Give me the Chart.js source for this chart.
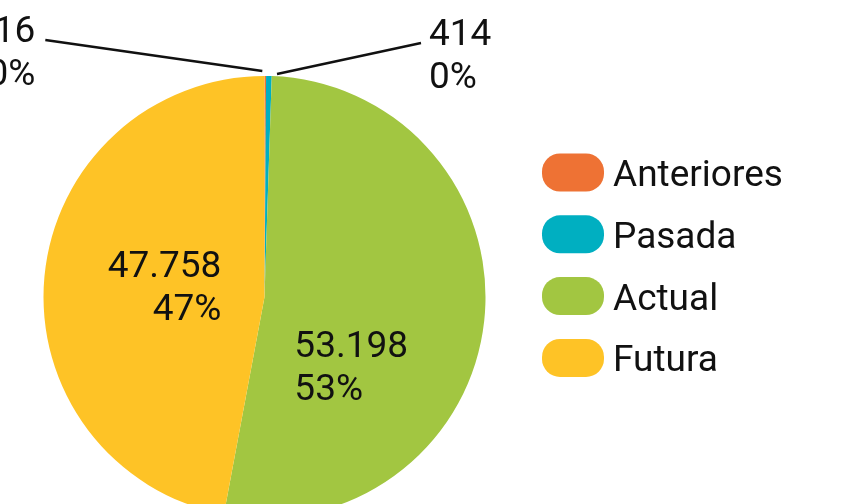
<!DOCTYPE html>
<html lang="es">
<head>
    <meta charset="UTF-8">
    <title>Distribución por temporada</title>
    <script src="https://cdn.jsdelivr.net/npm/chart.js"></script>
    <style>
        html, body { margin: 0; padding: 0; background: #fff; overflow: hidden; }
        #wrap { width: 858px; height: 504px; overflow: hidden; }
        canvas { display: block; }
    </style>
</head>
<body>
    <div id="wrap">
        <canvas id="pieChart" width="858" height="540"></canvas>
    </div>

    <script>
        // Datos
        const categories = ['Anteriores', 'Pasada', 'Actual', 'Futura'];
        const values = [116, 414, 53198, 47758];
        const colors = ['#ee7234', '#00afc1', '#a2c641', '#fec326'];

        const FONT = '37px Roboto';
        const INK = '#111';

        // 47758 -> "47.758"
        function fmt(n) {
            return String(n).replace(/\B(?=(\d{3})+(?!\d))/g, '.');
        }

        // porcentajes enteros que suman 100 (resto mayor)
        function percents(arr) {
            const total = arr.reduce((a, b) => a + b, 0);
            const raw = arr.map(v => v / total * 100);
            const out = raw.map(Math.floor);
            let left = 100 - out.reduce((a, b) => a + b, 0);
            const order = raw.map((v, i) => [v - Math.floor(v), i]).sort((a, b) => b[0] - a[0]);
            for (let k = 0; k < left; k++) out[order[k][1]] += 1;
            return out;
        }
        const pcts = percents(values);

        // etiquetas de los sectores (dentro y fuera)
        const sliceLabels = {
            id: 'sliceLabels',
            afterDatasetsDraw(chart) {
                const ctx = chart.ctx;
                const meta = chart.getDatasetMeta(0);
                let outsideCount = 0;
                ctx.save();
                ctx.font = FONT;
                ctx.fillStyle = INK;
                meta.data.forEach((arc, i) => {
                    const { x: cx, y: cy, startAngle, endAngle, outerRadius: r } = arc.getProps(['x', 'y', 'startAngle', 'endAngle', 'outerRadius'], true);
                    const mid = (startAngle + endAngle) / 2;
                    const line1 = fmt(values[i]);
                    const line2 = pcts[i] + '%';
                    const frac = (endAngle - startAngle) / (Math.PI * 2);
                    if (frac > 0.05) {
                        const onLeft = Math.cos(mid) < 0;
                        if (onLeft) {
                            ctx.textAlign = 'right';
                            ctx.fillText(line1, cx - 0.195 * r, cy - 0.09 * r);
                            ctx.fillText(line2, cx - 0.195 * r, cy - 0.09 * r + 43);
                        } else {
                            ctx.textAlign = 'left';
                            ctx.fillText(line1, cx + 0.135 * r, cy + 0.27 * r);
                            ctx.fillText(line2, cx + 0.135 * r, cy + 0.27 * r + 43);
                        }
                    } else {
                        const sx = cx + Math.cos(mid) * (r + 4);
                        const sy = cy + Math.sin(mid) * (r + 4);
                        const toLeft = outsideCount % 2 === 0;
                        outsideCount++;
                        const x0 = toLeft ? sx - 3 : sx + 8;
                        const y0 = toLeft ? sy - 1 : sy + 2;
                        const ex = toLeft ? x0 - 217 : x0 + 144;
                        const ey = y0 - 31;
                        ctx.strokeStyle = INK;
                        ctx.lineWidth = 2.5;
                        ctx.beginPath();
                        ctx.moveTo(x0, y0);
                        ctx.lineTo(ex, ey);
                        ctx.stroke();
                        ctx.textAlign = toLeft ? 'right' : 'left';
                        const tx = toLeft ? ex - 10 : ex + 8;
                        ctx.fillText(line1, tx, ey + 2);
                        ctx.fillText(line2, tx, ey + 45);
                    }
                });
                ctx.restore();
            }
        };

        // leyenda dibujada a mano (pastillas redondeadas)
        const pillLegend = {
            id: 'pillLegend',
            afterDraw(chart) {
                const ctx = chart.ctx;
                const x = 542, y0 = 172.5, step = 61.8, w = 62, h = 38;
                ctx.save();
                ctx.font = FONT;
                ctx.textAlign = 'left';
                categories.forEach((name, i) => {
                    const cy = y0 + i * step;
                    ctx.fillStyle = colors[i];
                    ctx.beginPath();
                    ctx.roundRect(x, cy - h / 2, w, h, 18);
                    ctx.fill();
                    ctx.fillStyle = INK;
                    ctx.fillText(name, x + w + 9, cy + 13.5);
                });
                ctx.restore();
            }
        };

        const ctx = document.getElementById('pieChart').getContext('2d');
        new Chart(ctx, {
            type: 'pie',
            data: {
                labels: categories,
                datasets: [{
                    data: values,
                    backgroundColor: colors,
                    borderWidth: 0
                }]
            },
            options: {
                responsive: false,
                animation: false,
                layout: { padding: { left: 43, right: 372, top: 76, bottom: 22 } },
                plugins: {
                    legend: { display: false },
                    tooltip: { enabled: false }
                }
            },
            plugins: [sliceLabels, pillLegend]
        });
    </script>
</body>
</html>
